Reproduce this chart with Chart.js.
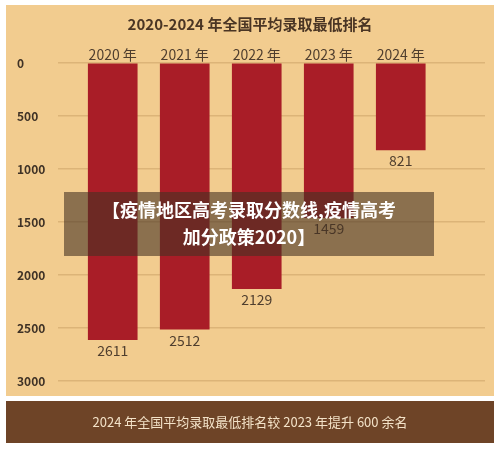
<!DOCTYPE html>
<html>
<head>
<meta charset="utf-8">
<script src="https://cdn.jsdelivr.net/npm/chart.js@4"></script>
<style>
  html, body { margin: 0; padding: 0; background: #fff; }
  #wrap { width: 500px; height: 450px; }
</style>
</head>
<body>
<div id="wrap"><canvas id="rankChart" width="500" height="450"></canvas></div>
<script>
const years = ["2020 年", "2021 年", "2022 年", "2023 年", "2024 年"];
const ranks = [2611, 2512, 2129, 1459, 821];
const yTicks = [0, 500, 1000, 1500, 2000, 2500, 3000];
const titleText = "2020-2024 年全国平均录取最低排名";
const footerText = "2024 年全国平均录取最低排名较 2023 年提升 600 余名";
const overlayLines = ["【疫情地区高考录取分数线,疫情高考", "加分政策2020】"];

const FONT = '"Noto Sans CJK SC", "Noto Sans", sans-serif';

// Background panels, title and footer band
const backdrop = {
  id: "backdrop",
  beforeDraw(chart) {
    const c = chart.ctx;
    c.save();
    c.fillStyle = "#ffffff";
    c.fillRect(0, 0, 500, 450);
    c.fillStyle = "#f2cc8f";
    c.fillRect(6, 5, 488, 391);
    c.fillStyle = "#6e4427";
    c.fillRect(6, 401, 488, 42);
    c.textAlign = "center";
    c.textBaseline = "middle";
    c.fillStyle = "#4a3524";
    c.font = "bold 15px " + FONT;
    c.fillText(titleText, 250, 24);
    c.fillStyle = "#f3e2c8";
    c.font = "13px " + FONT;
    c.fillText(footerText, 250, 422);
    c.restore();
  },
};

// Axis labels and value labels drawn from the scales
const labels = {
  id: "labels",
  afterDatasetsDraw(chart) {
    const c = chart.ctx;
    const x = chart.scales.x;
    const y = chart.scales.y;
    c.save();
    c.fillStyle = "#3f3226";
    c.font = "bold 12px " + FONT;
    c.textAlign = "left";
    c.textBaseline = "middle";
    yTicks.forEach((v) => c.fillText(String(v), 17, y.getPixelForValue(v)));
    c.fillStyle = "#4f3e2e";
    c.font = "14px " + FONT;
    c.textAlign = "center";
    c.textBaseline = "alphabetic";
    years.forEach((yr, i) => c.fillText(yr, x.getPixelForValue(i), y.getPixelForValue(0) - 3));
    c.textBaseline = "top";
    ranks.forEach((v, i) => c.fillText(String(v), x.getPixelForValue(i), y.getPixelForValue(v) + 4));
    c.restore();
  },
  afterDraw(chart) {
    const c = chart.ctx;
    c.save();
    c.fillStyle = "rgba(70, 50, 35, 0.6)";
    c.fillRect(64, 192, 370, 64);
    c.fillStyle = "#ffffff";
    c.font = "bold 18px " + FONT;
    c.textAlign = "center";
    c.textBaseline = "middle";
    c.fillText(overlayLines[0], 249, 210);
    c.fillText(overlayLines[1], 249, 237);
    c.restore();
  },
};

new Chart(document.getElementById("rankChart"), {
  type: "bar",
  data: {
    datasets: [
      {
        data: ranks.map((v, i) => ({ x: i, y: v })),
        backgroundColor: "#a91d27",
        barThickness: 49,
      },
    ],
  },
  options: {
    responsive: false,
    animation: false,
    layout: { padding: { left: 58, top: 63, right: 15, bottom: 69 } },
    plugins: { legend: { display: false }, tooltip: { enabled: false } },
    scales: {
      x: {
        type: "linear",
        offset: false,
        min: -0.76,
        max: 5.17,
        grid: { display: false, offset: false },
        border: { display: false },
        ticks: { display: false },
        afterFit: (s) => { s.height = 0; },
      },
      y: {
        reverse: true,
        min: 0,
        max: 3000,
        ticks: { display: false, stepSize: 500 },
        border: { display: false },
        grid: { color: "#dcb478", lineWidth: 1.5, drawTicks: false },
        afterFit: (s) => { s.width = 0; },
      },
    },
  },
  plugins: [backdrop, labels],
});
</script>
</body>
</html>
